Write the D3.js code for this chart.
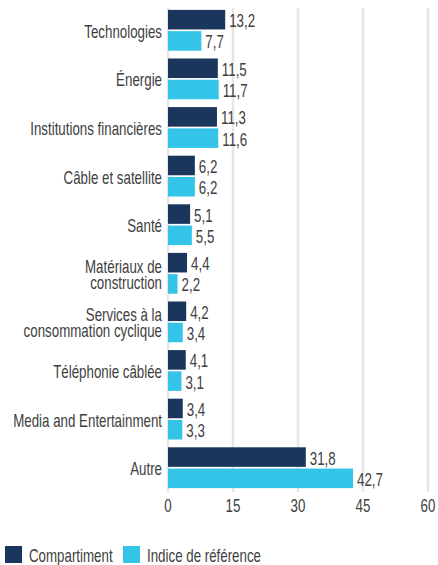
<!DOCTYPE html>
<html lang="fr">
<head>
    <meta charset="UTF-8">
    <script src="https://d3js.org/d3.v7.min.js"></script>
    <style>
        body, html {
            width: 100%;
            height: 100%;
            margin: 0;
            overflow: hidden;
            background: #fff;
            font-family: "Liberation Sans", Arial, sans-serif;
        }
        .lbl { font-size: 18px; fill: #404040; }
        .grid line { stroke: #e6e6e6; stroke-width: 2.5px; }
    </style>
</head>
<body>
    <div id="chart"></div>
    <script>
        const categories = [
            ["Technologies"],
            ["Énergie"],
            ["Institutions financières"],
            ["Câble et satellite"],
            ["Santé"],
            ["Matériaux de", "construction"],
            ["Services à la", "consommation cyclique"],
            ["Téléphonie câblée"],
            ["Media and Entertainment"],
            ["Autre"]
        ];
        const compartiment = [13.2, 11.5, 11.3, 6.2, 5.1, 4.4, 4.2, 4.1, 3.4, 31.8];
        const indice = [7.7, 11.7, 11.6, 6.2, 5.5, 2.2, 3.4, 3.1, 3.3, 42.7];
        const seriesNames = ["Compartiment", "Indice de référence"];
        const colors = ["#1b365d", "#33c4e8"];
        const ticks = [0, 15, 30, 45, 60];

        const W = 438, H = 565;
        const SX = 0.74; // condensed look: squeeze text horizontally

        const svg = d3.select("#chart").append("svg")
            .attr("width", W).attr("height", H);

        // put a squeezed text at (px, py)
        function label(g, px, py, anchor, lines, lh) {
            const t = g.append("text")
                .attr("class", "lbl")
                .attr("text-anchor", anchor)
                .attr("transform", `translate(${px},${py}) scale(${SX},1)`);
            [].concat(lines).forEach((s, i) => {
                t.append("tspan").attr("x", 0).attr("dy", i === 0 ? 0 : lh).text(s);
            });
            return t;
        }

        const keys = categories.map((c, i) => i);
        const x = d3.scaleLinear().domain([0, 60]).range([168, 428]);
        const y = d3.scaleBand().domain(keys).range([6, 492])
            .paddingInner(0.16).paddingOuter(0.08);
        const ySub = d3.scaleBand().domain([0, 1]).range([0, y.bandwidth()])
            .paddingInner(0.08).paddingOuter(0);

        // gridlines
        svg.append("g").attr("class", "grid")
            .selectAll("line").data(ticks).join("line")
            .attr("x1", d => x(d)).attr("x2", d => x(d))
            .attr("y1", 8).attr("y2", 492);

        // x tick labels
        const gx = svg.append("g");
        ticks.forEach(t => label(gx, x(t), 512, "middle", String(t)));

        // category labels
        const gc = svg.append("g");
        keys.forEach(k => {
            const cy = y(k) + y.bandwidth() / 2;
            const n = categories[k].length;
            label(gc, 162, n === 1 ? cy + 7.5 : cy - 0.5, "end", categories[k], 16);
        });

        const rows = [];
        keys.forEach(i => {
            rows.push({ k: i, s: 0, v: compartiment[i] });
            rows.push({ k: i, s: 1, v: indice[i] });
        });

        svg.append("g").selectAll("rect").data(rows).join("rect")
            .attr("x", x(0))
            .attr("y", d => y(d.k) + ySub(d.s))
            .attr("width", d => x(d.v) - x(0))
            .attr("height", ySub.bandwidth())
            .attr("fill", d => colors[d.s]);

        // value labels
        const gv = svg.append("g");
        rows.forEach(d => {
            label(gv, x(d.v) + 4, y(d.k) + ySub(d.s) + ySub.bandwidth() / 2 + 7.5,
                "start", d.v.toFixed(1).replace(".", ","));
        });

        // legend
        const lg = svg.append("g").attr("transform", "translate(5,546)");
        const lx = [0, 118];
        seriesNames.forEach((n, i) => {
            lg.append("rect").attr("x", lx[i]).attr("y", 0)
                .attr("width", 17).attr("height", 17).attr("fill", colors[i]);
            label(lg, lx[i] + 24, 16, "start", n);
        });
    </script>
</body>
</html>
